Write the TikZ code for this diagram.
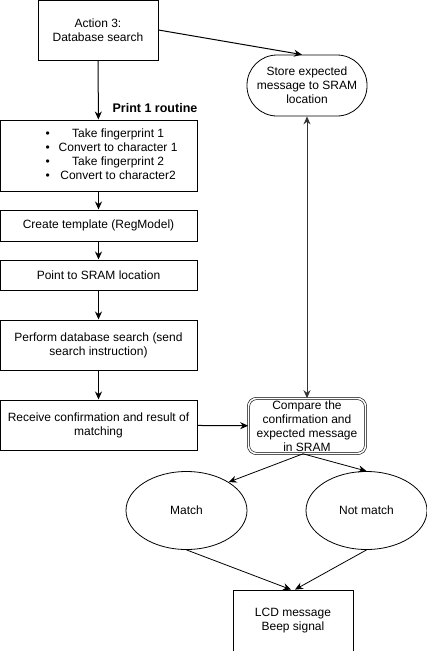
\documentclass[tikz,border=0pt]{standalone}
\usepackage{fontspec}
\setmainfont{Liberation Sans}
\usetikzlibrary{arrows.meta,shapes.geometric}

\tikzset{
  box/.style={draw, line width=1pt, minimum width=#1, align=center,
    inner sep=2pt, font=\fontsize{12}{14}\selectfont},
  box/.default=197pt,
  oval/.style={draw, ellipse, line width=0.8pt, minimum width=121pt,
    minimum height=78pt, font=\fontsize{12}{14}\selectfont},
  flow/.style={-{Stealth[length=8pt,width=7pt]}, line width=1pt},
}

\begin{document}
\begin{tikzpicture}[x=1pt, y=-1pt]
  \useasboundingbox (0,0) rectangle (427,651);

  % left column
  \node[box=120pt, minimum height=60pt] (act) at (98,30) {Action 3:\\Database search};
  \node[box, minimum height=71pt,
    label={[xshift=13pt, font=\fontsize{12}{14}\selectfont]center:{%
      \begin{tabular}{@{}c@{\hspace{9pt}}c@{}}
        \textbullet & Take fingerprint 1\\
        \textbullet & Convert to character 1\\
        \textbullet & Take fingerprint 2\\
        \textbullet & Convert to character2
      \end{tabular}}}] (list) at (98.5,155.5) {};
  \node[font=\bfseries\fontsize{12.5}{14}\selectfont] (print) at (155,108) {Print 1 routine};
  \node[box, minimum height=31pt] (tmpl) at (98.5,225.5) {Create template (RegModel)};
  \node[box, minimum height=30pt] (point) at (98.5,275) {Point to SRAM location};
  \node[box, minimum height=50pt] (srch) at (98.5,345) {Perform database search (send\\search instruction)};
  \node[box, minimum height=50pt] (recv) at (98.5,425) {Receive confirmation and result of\\matching};

  % right column
  \node[box=120pt, minimum height=61pt, rounded corners=30pt, line width=0.8pt] (store) at (307,85.5)
    {Store expected\\message to SRAM\\location};
  \node[box=117pt, minimum height=55pt, rounded corners=8pt, line width=0.6pt,
    double, double distance=1.6pt] (cmp) at (307,426)
    {Compare the\\confirmation and\\expected message\\in SRAM};
  \node[oval] (match) at (186.5,510.5) {Match};
  \node[oval] (nomatch) at (366.5,510.5) {Not match};
  \node[box=120pt, minimum height=61pt, line width=0.8pt] (lcd) at (293,620.5) {LCD message\\Beep signal};

  % connectors
  \draw[flow] (act) -- (list);
  \draw[flow] (act.east) -- ([xshift=-5pt]store.north);
  \draw[flow] (list) -- (tmpl);
  \draw[flow] (tmpl) -- (point);
  \draw[flow] (point) -- (srch);
  \draw[flow] (srch) -- (recv);
  \draw[flow] (recv) -- (cmp);
  \draw[flow, {Stealth[length=8pt,width=7pt]}-{Stealth[length=8pt,width=7pt]}, black!80]
    (store) -- (cmp);
  \draw[flow, line width=0.8pt] ([xshift=-4pt]cmp.south) -- (match.34);
  \draw[flow, line width=0.8pt] ([xshift=-4pt]cmp.south) -- (nomatch.north);
  \draw[flow, line width=0.8pt] (match.south) -- ([xshift=-2pt]lcd.north);
  \draw[flow, line width=0.8pt] (nomatch.south) -- ([xshift=2pt]lcd.north);
\end{tikzpicture}
\end{document}
